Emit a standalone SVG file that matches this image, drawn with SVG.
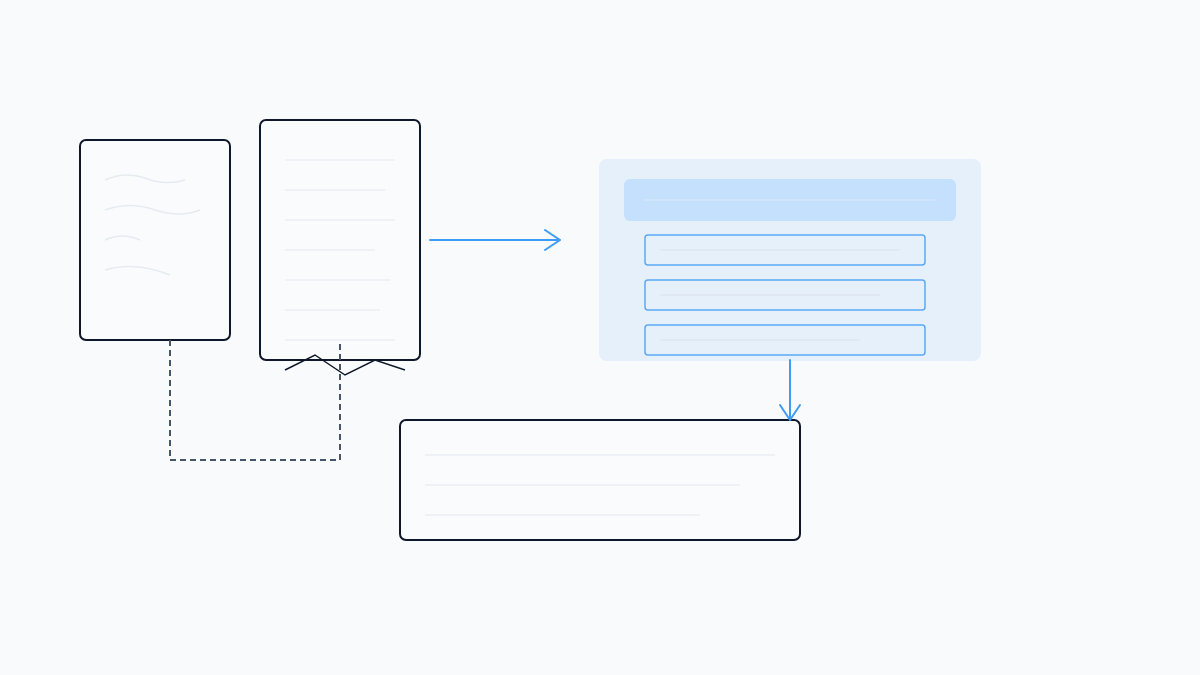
<svg xmlns="http://www.w3.org/2000/svg" width="1200" height="675" viewBox="0 0 1200 675">
<style>
.doc{fill:#fafbfd;stroke:#0f172a;stroke-width:2}
.faint{fill:none;stroke:#eef1f6;stroke-width:2}
.wave{fill:none;stroke:#e6eaf2;stroke-width:1.5}
.blue{fill:none;stroke:#3d9cf5;stroke-width:2;stroke-linecap:round;stroke-linejoin:round}
.row{fill:none;stroke:#5aa9f8;stroke-width:1.5}
.rowline{fill:none;stroke:#dce6f1;stroke-width:1.5}
.dash{fill:none;stroke:#475569;stroke-width:2;stroke-dasharray:6 4}
</style>
<rect width="1200" height="675" fill="#f8fafc"/>
<g id="doc-left">
<rect class="doc" x="80" y="140" width="150" height="200" rx="6"/>
<path class="wave" d="M105 180 Q125 171 145 178 Q165 186 185 180"/>
<path class="wave" d="M105 210 Q130 201 155 210 Q180 218 200 210"/>
<path class="wave" d="M105 240 Q122 232 140 240"/>
<path class="wave" d="M105 270 Q135 261 170 275"/>
</g>
<g id="doc-middle">
<rect class="doc" x="260" y="120" width="160" height="240" rx="6"/>
<path class="faint" d="M285 160H395M285 190H385M285 220H395M285 250H375M285 280H390M285 310H380M285 340H395"/>
<polyline points="285,370 315,355 345,375 375,360 405,370" fill="none" stroke="#0f172a" stroke-width="1.5"/>
</g>
<g id="panel">
<rect x="599" y="159" width="382" height="202" rx="8" fill="#e6f0fb"/>
<rect x="624" y="179" width="332" height="42" rx="6" fill="#c4e0fc"/>
<path d="M645 200H935" stroke="#d6e8fb" stroke-width="1.5"/>
<rect class="row" x="645" y="235" width="280" height="30" rx="3"/>
<path class="rowline" d="M660 250H900"/>
<rect class="row" x="645" y="280" width="280" height="30" rx="3"/>
<path class="rowline" d="M660 295H880"/>
<rect class="row" x="645" y="325" width="280" height="30" rx="3"/>
<path class="rowline" d="M660 340H860"/>
</g>
<g id="output-box">
<rect class="doc" x="400" y="420" width="400" height="120" rx="6"/>
<path class="faint" d="M425 455H775M425 485H740M425 515H700"/>
</g>
<g id="connectors">
<path class="dash" d="M170 340V460H340V340"/>
<path class="blue" d="M430 240H560M545 230L560 240L545 250"/>
<path class="blue" d="M790 360V420M780 405L790 420L800 405"/>
</g>
</svg>
